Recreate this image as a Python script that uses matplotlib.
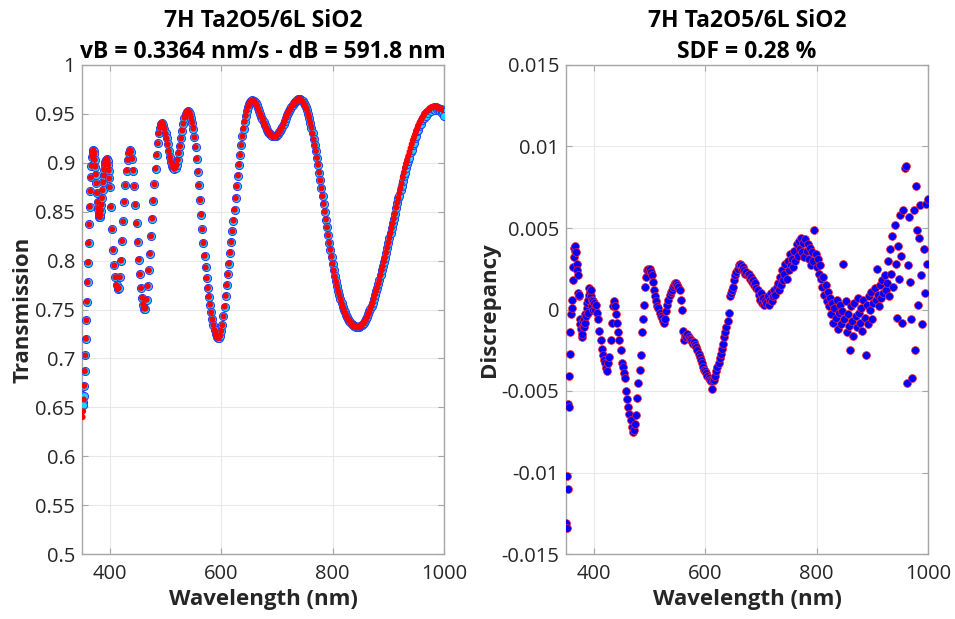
import numpy as np
import matplotlib
matplotlib.use('Agg')
import matplotlib.pyplot as plt

plt.rcParams['font.family'] = ['Open Sans', 'DejaVu Sans']

# wavelength grid: 1 nm below 400 nm, 2 nm above
wl = np.concatenate([np.arange(350, 400, 1), np.arange(400, 1001, 2)])

# calculated transmission (red)
t_calc = [
    0.645, 0.640, 0.646, 0.658, 0.672, 0.687, 0.703, 0.720, 0.739, 0.758,
    0.778, 0.798, 0.818, 0.837, 0.855, 0.871, 0.885, 0.897, 0.906, 0.911,
    0.913, 0.912, 0.909, 0.903, 0.896, 0.888, 0.879, 0.869, 0.860, 0.853,
    0.848, 0.845, 0.845, 0.847, 0.851, 0.857, 0.864, 0.872, 0.880, 0.887,
    0.893, 0.898, 0.901, 0.903, 0.904, 0.903, 0.902, 0.898, 0.892, 0.884,
    # 400 - 1000, 2 nm
    0.875, 0.855, 0.832, 0.811, 0.795, 0.783, 0.775, 0.771, 0.772, 0.783,
    0.800, 0.820, 0.840, 0.860, 0.877, 0.892, 0.903, 0.910, 0.913, 0.911,
    0.904, 0.892, 0.876, 0.857, 0.838, 0.819, 0.801, 0.786, 0.772, 0.762,
    0.755, 0.751, 0.751, 0.760, 0.774, 0.790, 0.807, 0.825, 0.843, 0.861,
    0.878, 0.894, 0.908, 0.920, 0.930, 0.936, 0.940, 0.941, 0.939, 0.935,
    0.930, 0.925, 0.919, 0.912, 0.906, 0.901, 0.897, 0.895, 0.894, 0.895,
    0.898, 0.903, 0.910, 0.917, 0.925, 0.933, 0.940, 0.946, 0.950, 0.952,
    0.953, 0.952, 0.950, 0.946, 0.941, 0.935, 0.926, 0.916, 0.904, 0.891,
    0.877, 0.862, 0.847, 0.832, 0.818, 0.805, 0.793, 0.782, 0.772, 0.763,
    0.755, 0.747, 0.740, 0.734, 0.729, 0.725, 0.722, 0.721, 0.721, 0.723,
    0.728, 0.734, 0.743, 0.753, 0.764, 0.775, 0.786, 0.797, 0.808, 0.819,
    0.830, 0.841, 0.852, 0.864, 0.876, 0.887, 0.898, 0.908, 0.918, 0.927,
    0.935, 0.942, 0.948, 0.953, 0.957, 0.960, 0.962, 0.963, 0.964, 0.963,
    0.962, 0.961, 0.959, 0.956, 0.953, 0.950, 0.947, 0.945, 0.942, 0.939,
    0.937, 0.934, 0.932, 0.930, 0.929, 0.928, 0.927, 0.927, 0.927, 0.927,
    0.928, 0.929, 0.931, 0.933, 0.935, 0.937, 0.940, 0.943, 0.946, 0.949,
    0.951, 0.953, 0.955, 0.957, 0.959, 0.961, 0.962, 0.963, 0.964, 0.965,
    0.965, 0.965, 0.964, 0.963, 0.961, 0.959, 0.957, 0.954, 0.950, 0.946,
    0.941, 0.936, 0.930, 0.924, 0.918, 0.912, 0.905, 0.898, 0.890, 0.882,
    0.874, 0.866, 0.858, 0.850, 0.842, 0.834, 0.826, 0.818, 0.811, 0.804,
    0.797, 0.790, 0.784, 0.779, 0.774, 0.769, 0.765, 0.761, 0.757, 0.753,
    0.750, 0.747, 0.744, 0.742, 0.740, 0.738, 0.737, 0.735, 0.734, 0.733,
    0.733, 0.732, 0.732, 0.732, 0.732, 0.733, 0.734, 0.735, 0.736, 0.738,
    0.740, 0.742, 0.745, 0.748, 0.751, 0.754, 0.757, 0.761, 0.765, 0.769,
    0.772, 0.776, 0.780, 0.785, 0.790, 0.794, 0.799, 0.803, 0.808, 0.813,
    0.818, 0.823, 0.828, 0.833, 0.838, 0.843, 0.848, 0.854, 0.859, 0.864,
    0.869, 0.874, 0.879, 0.885, 0.890, 0.895, 0.899, 0.903, 0.907, 0.911,
    0.915, 0.919, 0.923, 0.926, 0.929, 0.932, 0.935, 0.938, 0.941, 0.943,
    0.945, 0.947, 0.949, 0.951, 0.952, 0.953, 0.954, 0.955, 0.956, 0.957,
    0.957, 0.957, 0.957, 0.957, 0.957, 0.956, 0.956, 0.955, 0.955, 0.954,
    0.954,
]

# measured transmission (cyan): differs from the red one only at the ends
t_head = [0.663, 0.655, 0.652, 0.662]
t_tail = [
    0.866, 0.872, 0.876, 0.881, 0.886, 0.890, 0.895, 0.899, 0.902, 0.905,
    0.911, 0.913, 0.918, 0.920, 0.925, 0.927, 0.933, 0.934, 0.938, 0.940,
    0.944, 0.946, 0.946, 0.950, 0.948, 0.952, 0.951, 0.955, 0.953, 0.956,
    0.955, 0.957, 0.954, 0.957, 0.955, 0.956, 0.953, 0.955, 0.951, 0.952,
    0.948,
]
t_meas = t_head + t_calc[len(t_head):len(t_calc) - len(t_tail)] + t_tail

# discrepancy
disc = [
    -0.0131, -0.0134, -0.0102, -0.0110, -0.0058, -0.0060, -0.0041, -0.0027, -0.0014, -0.0003,
    0.0001, 0.0006, 0.0018, 0.0026, 0.0032, 0.0038, 0.0036, 0.0039, 0.0035, 0.0028,
    0.0024, 0.0021, 0.0010, 0.0008, 0.0009, -0.0006, -0.0009, -0.0012, -0.0017, -0.0015,
    -0.0010, -0.0007, -0.0011, -0.0006, -0.0003, -0.0008, -0.0004, 0.0001, 0.0004, -0.0002,
    0.0006, 0.0009, 0.0013, 0.0011, 0.0008, 0.0012, 0.0006, 0.0002, 0.0005, 0.0000,
    # 400 - 1000, 2 nm
    0.0004, 0.0000, 0.0003, -0.0002, -0.0006, -0.0013, -0.0019, -0.0024, -0.0028, -0.0031,
    -0.0033, -0.0036, -0.0038, -0.0033, -0.0029, -0.0019, -0.0008, 0.0002, 0.0005, 0.0002,
    -0.0003, -0.0008, -0.0014, -0.0019, -0.0025, -0.0033, -0.0035, -0.0039, -0.0042, -0.0050,
    -0.0055, -0.0060, -0.0064, -0.0068, -0.0072, -0.0075, -0.0074, -0.0070, -0.0065, -0.0054,
    -0.0045, -0.0037, -0.0028, -0.0014, -0.0006, 0.0003, 0.0014, 0.0020, 0.0024, 0.0025,
    0.0025, 0.0023, 0.0021, 0.0017, 0.0012, 0.0008, 0.0005, 0.0002, 0.0001, -0.0002,
    -0.0004, -0.0005, -0.0007, -0.0008, -0.0006, -0.0001, 0.0003, 0.0006, 0.0009, 0.0011,
    0.0012, 0.0014, 0.0015, 0.0016, 0.0016, 0.0015, 0.0014, 0.0012, 0.0006, 0.0000,
    -0.0013, -0.0019, -0.0016, -0.0017, -0.0015, -0.0017, -0.0018, -0.0019, -0.0020, -0.0021,
    -0.0020, -0.0022, -0.0023, -0.0025, -0.0027, -0.0029, -0.0031, -0.0033, -0.0035, -0.0037,
    -0.0038, -0.0039, -0.0041, -0.0042, -0.0043, -0.0044, -0.0049, -0.0044, -0.0043, -0.0041,
    -0.0038, -0.0035, -0.0033, -0.0030, -0.0027, -0.0024, -0.0021, -0.0017, -0.0014, -0.0011,
    -0.0007, -0.0002, 0.0008, 0.0010, 0.0012, 0.0014, 0.0018, 0.0021, 0.0023, 0.0025,
    0.0027, 0.0028, 0.0027, 0.0025, 0.0026, 0.0024, 0.0022, 0.0023, 0.0021, 0.0022,
    0.0019, 0.0020, 0.0017, 0.0018, 0.0015, 0.0016, 0.0013, 0.0012, 0.0009, 0.0006,
    0.0010, 0.0004, 0.0007, 0.0003, 0.0005, 0.0004, 0.0008, 0.0003, 0.0006, 0.0010,
    0.0005, 0.0008, 0.0012, 0.0009, 0.0014, 0.0016, 0.0012, 0.0020, 0.0015, 0.0024,
    0.0018, 0.0022, 0.0028, 0.0019, 0.0030, 0.0024, 0.0034, 0.0027, 0.0031, 0.0026,
    0.0036, 0.0030, 0.0040, 0.0033, 0.0042, 0.0037, 0.0044, 0.0035, 0.0041, 0.0032,
    0.0043, 0.0036, 0.0040, 0.0031, 0.0038, 0.0027, 0.0035, 0.0030, 0.0049, 0.0034,
    0.0026, 0.0031, 0.0022, 0.0027, 0.0019, 0.0014, 0.0020, 0.0009, 0.0015, 0.0005,
    0.0011, 0.0002, 0.0007, -0.0003, 0.0004, -0.0008, 0.0001, -0.0005, 0.0006, -0.0012,
    -0.0002, 0.0003, -0.0009, -0.0001, 0.0028, -0.0006, 0.0005, -0.0014, -0.0003, -0.0010,
    -0.0025, 0.0002, -0.0007, -0.0016, 0.0004, -0.0004, -0.0011, 0.0007, -0.0002, -0.0008,
    0.0001, -0.0013, 0.0006, -0.0005, -0.0028, 0.0003, -0.0009, 0.0008, 0.0000, 0.0011,
    -0.0006, 0.0004, 0.0013, 0.0006, 0.0025, 0.0009, 0.0002, 0.0015, 0.0007, 0.0018,
    0.0010, 0.0021, 0.0012, 0.0016, 0.0030, 0.0008, 0.0037, 0.0022, 0.0045, 0.0014,
    0.0052, 0.0028, -0.0005, 0.0039, 0.0019, 0.0058, 0.0033, -0.0008, 0.0061, 0.0087,
    0.0088, -0.0045, 0.0027, 0.0057, 0.0017, -0.0006, -0.0042, 0.0061, -0.0025, 0.0076,
    0.0049, 0.0003, 0.0044, 0.0064, 0.0021, -0.0009, 0.0037, 0.0010, 0.0065, 0.0028,
    0.0068,
]

x_ticks = [400, 600, 800, 1000]
t_ticks = [0.5, 0.55, 0.6, 0.65, 0.7, 0.75, 0.8, 0.85, 0.9, 0.95, 1]
t_labels = ['0.5', '0.55', '0.6', '0.65', '0.7', '0.75', '0.8', '0.85', '0.9', '0.95', '1']
d_ticks = [-0.015, -0.01, -0.005, 0, 0.005, 0.01, 0.015]
d_labels = ['-0.015', '-0.01', '-0.005', '0', '0.005', '0.01', '0.015']

title_l = '7H Ta2O5/6L SiO2\nvB = 0.3364 nm/s - dB = 591.8 nm'
title_r = '7H Ta2O5/6L SiO2\nSDF = 0.28 %'

tick_fs = 14.5
lab_fs = 16
tit_fs = 16.5
box_col = '#a6a6a6'
txt_col = '#262626'


def style_axes(ax):
    for s in ax.spines.values():
        s.set_color(box_col)
        s.set_linewidth(1.0)
    ax.tick_params(direction='in', length=4, width=0.8, color=box_col,
                   labelcolor=txt_col, labelsize=tick_fs,
                   top=True, right=True)
    ax.tick_params(axis='x', pad=7)
    ax.tick_params(axis='y', pad=5)
    ax.grid(True, color='#e8e8e8', linewidth=0.8)
    ax.set_axisbelow(True)


fig = plt.figure(figsize=(9.55, 6.19), dpi=100)
ax1 = fig.add_axes([82/955, 65/619, 362/955, 489/619])
ax2 = fig.add_axes([566/955, 65/619, 362/955, 489/619])

# --- transmission ---
ax1.scatter(wl, t_meas, s=34, facecolor='#1ed2ff', edgecolor='#1f3dff',
            linewidths=0.7, zorder=3)
ax1.scatter(wl, t_calc, s=19, facecolor='#ff0000', edgecolor='none', zorder=4)
ax1.set_xlim(350, 1000)
ax1.set_ylim(0.5, 1)
ax1.set_xticks(x_ticks)
ax1.set_yticks(t_ticks)
ax1.set_yticklabels(t_labels)
style_axes(ax1)
ax1.set_xlabel('Wavelength (nm)', fontsize=lab_fs, fontweight='bold', color=txt_col, labelpad=4)
ax1.set_ylabel('Transmission', fontsize=lab_fs, fontweight='bold', color=txt_col, labelpad=1)
ax1.set_title(title_l, fontsize=tit_fs, fontweight='bold', color='#000000', pad=5, linespacing=1.4)

# --- discrepancy ---
ax2.scatter(wl, disc, s=32, facecolor='#0000ff', edgecolor='#ff2020',
            linewidths=0.5, zorder=3)
ax2.set_xlim(350, 1000)
ax2.set_ylim(-0.015, 0.015)
ax2.set_xticks(x_ticks)
ax2.set_yticks(d_ticks)
ax2.set_yticklabels(d_labels)
style_axes(ax2)
ax2.set_xlabel('Wavelength (nm)', fontsize=lab_fs, fontweight='bold', color=txt_col, labelpad=4)
ax2.set_ylabel('Discrepancy', fontsize=lab_fs, fontweight='bold', color=txt_col, labelpad=1)
ax2.set_title(title_r, fontsize=tit_fs, fontweight='bold', color='#000000', pad=5, linespacing=1.4)

fig.savefig('out.png', dpi=100)
plt.close(fig)
